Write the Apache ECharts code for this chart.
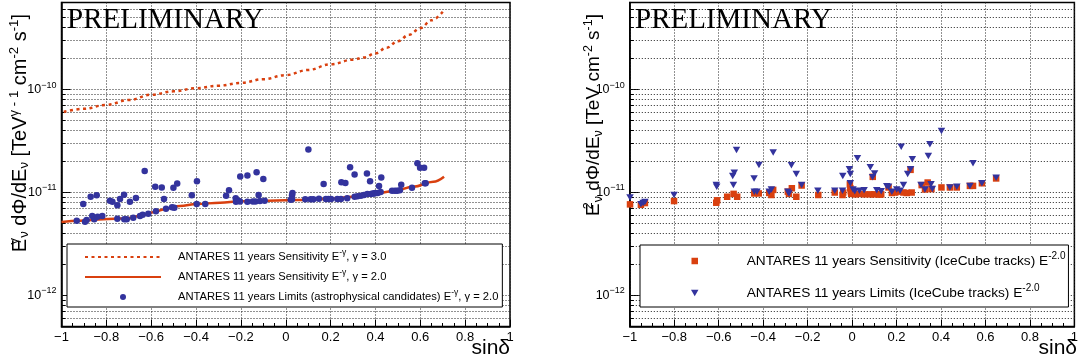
<!DOCTYPE html>
<html><head><meta charset="utf-8">
<script src="https://cdn.jsdelivr.net/npm/echarts@6/dist/echarts.min.js"></script>
<style>html,body{margin:0;padding:0;background:#fff}#c{width:1081px;height:363px}</style>
</head><body><div id="c"></div>
<script>
// ---------------- data ----------------
const xTickValues = [-1, -0.8, -0.6, -0.4, -0.2, 0, 0.2, 0.4, 0.6, 0.8, 1];
const yMajorValues = [1e-12, 1e-11, 1e-10];
const yGridValues = [6e-13, 7e-13, 8e-13, 9e-13, 1e-12, 2e-12, 3e-12, 4e-12, 5e-12, 6e-12, 7e-12, 8e-12, 9e-12,
  1e-11, 2e-11, 3e-11, 4e-11, 5e-11, 6e-11, 7e-11, 8e-11, 9e-11, 1e-10, 2e-10, 3e-10, 4e-10, 5e-10, 6e-10];

// Left panel: sensitivity gamma = 3.0 (dotted)
const sens3Sin  = [-0.99, -0.9, -0.8, -0.7, -0.6, -0.5, -0.4, -0.3, -0.2, -0.1, 0.0, 0.1, 0.2, 0.3, 0.35, 0.4, 0.45, 0.5, 0.55, 0.6, 0.65, 0.7];
const sens3Flux = [6.05e-11, 6.5e-11, 7.1e-11, 7.9e-11, 8.9e-11, 9.6e-11, 1.03e-10, 1.09e-10, 1.16e-10, 1.26e-10, 1.38e-10, 1.55e-10, 1.76e-10, 1.95e-10, 2.05e-10, 2.25e-10, 2.55e-10, 2.95e-10, 3.4e-10, 3.95e-10, 4.7e-10, 5.7e-10];
// Left panel: sensitivity gamma = 2.0 (solid)
const sens2Sin  = [-1.0, -0.918, -0.814, -0.709, -0.65, -0.591, -0.531, -0.472, -0.397, -0.293, -0.204, -0.115, 0.034, 0.183, 0.301, 0.39, 0.48, 0.569, 0.658, 0.706];
const sens2Flux = [5.18e-12, 5.33e-12, 5.5e-12, 5.62e-12, 5.92e-12, 6.43e-12, 6.97e-12, 7.4e-12, 7.73e-12, 7.96e-12, 8.22e-12, 8.3e-12, 8.45e-12, 8.65e-12, 9.1e-12, 9.66e-12, 1.035e-11, 1.14e-11, 1.27e-11, 1.42e-11];
// Left panel: limits, astrophysical candidates
const limSin = [-0.932, -0.903, -0.895, -0.888, -0.870, -0.863, -0.854, -0.843, -0.839, -0.818, -0.784, -0.773, -0.751, -0.751, -0.739, -0.721, -0.720, -0.709, -0.695, -0.680,
  -0.668, -0.650, -0.638, -0.629, -0.613, -0.582, -0.579, -0.553, -0.543, -0.534, -0.507, -0.501, -0.497, -0.484, -0.419, -0.396, -0.397, -0.359, -0.266, -0.253,
  -0.223, -0.222, -0.212, -0.204, -0.203, -0.171, -0.171, -0.147, -0.135, -0.130, -0.121, -0.115, -0.100, -0.094, 0.022, 0.028, 0.028, 0.030, 0.087, 0.101,
  0.111, 0.123, 0.148, 0.169, 0.179, 0.190, 0.202, 0.230, 0.246, 0.248, 0.266, 0.274, 0.287, 0.307, 0.307, 0.320, 0.335, 0.349, 0.362, 0.364,
  0.376, 0.380, 0.388, 0.395, 0.399, 0.410, 0.416, 0.423, 0.426, 0.474, 0.487, 0.497, 0.509, 0.515, 0.563, 0.587, 0.599, 0.617, 0.620, 0.624];
const limFlux = [5.32e-12, 7.73e-12, 5.2e-12, 5.41e-12, 9.1e-12, 5.92e-12, 5.5e-12, 9.4e-12, 5.82e-12, 5.92e-12, 8.3e-12, 8.14e-12, 7.52e-12, 5.57e-12, 8.65e-12, 9.5e-12, 5.5e-12, 5.5e-12, 8.14e-12, 5.69e-12,
  8.85e-12, 5.92e-12, 6.08e-12, 1.62e-11, 6.22e-12, 1.14e-11, 6.56e-12, 1.12e-11, 8.65e-12, 6.97e-12, 7.18e-12, 1.11e-11, 7.13e-12, 1.22e-11, 9.4e-12, 1.29e-11, 7.73e-12, 7.73e-12, 9.3e-12, 1.05e-11,
  8.8e-12, 8.14e-12, 8.3e-12, 8.2e-12, 1.43e-11, 1.46e-11, 8.14e-12, 8.2e-12, 8.2e-12, 1.57e-11, 9.46e-12, 8.25e-12, 1.35e-11, 8.3e-12, 8.5e-12, 9.4e-12, 8.6e-12, 9.9e-12, 8.6e-12, 2.62e-11,
  8.6e-12, 8.6e-12, 8.7e-12, 1.21e-11, 8.65e-12, 8.65e-12, 8.65e-12, 8.65e-12, 8.65e-12, 1.26e-11, 1.24e-11, 8.8e-12, 1.76e-11, 1.5e-11, 9.1e-12, 9.2e-12, 9.3e-12, 9.46e-12, 1.53e-11, 9.7e-12,
  1.29e-11, 9.7e-12, 9.8e-12, 9.8e-12, 9.9e-12, 9.9e-12, 1.16e-11, 1.01e-11, 1.4e-11, 1.04e-11, 1.04e-11, 1.04e-11, 1.05e-11, 1.19e-11, 1.11e-11, 1.92e-11, 1.74e-11, 1.74e-11, 1.23e-11, 1.23e-11];

// Right panel: sensitivity for IceCube tracks (squares)
const icSensSin = [-0.999, -0.950, -0.932, -0.801, -0.611, -0.607, -0.562, -0.533, -0.517, -0.440, -0.420, -0.373, -0.363, -0.355, -0.289, -0.284, -0.271, -0.251, -0.227, -0.152,
  -0.078, -0.043, -0.040, -0.010, -0.008, -0.006, -0.004, 0.015, 0.033, 0.057, 0.082, 0.093, 0.100, 0.119, 0.125, 0.131, 0.164, 0.179, 0.194, 0.209,
  0.231, 0.246, 0.263, 0.268, 0.313, 0.328, 0.340, 0.357, 0.402, 0.440, 0.471, 0.530, 0.544, 0.584, 0.648];
const icSensFlux = [7.67e-12, 7.6e-12, 7.9e-12, 8.26e-12, 7.96e-12, 8.4e-12, 9.1e-12, 9.7e-12, 9.1e-12, 9.8e-12, 9.8e-12, 9.9e-12, 9.46e-12, 1.06e-11, 1.02e-11, 9.7e-12, 1.1e-11, 9.1e-12, 1.17e-11, 9.46e-12,
  1.0e-11, 9.46e-12, 1.0e-11, 1.2e-11, 1.1e-11, 1.03e-11, 9.7e-12, 9.6e-12, 9.7e-12, 9.6e-12, 9.6e-12, 1.42e-11, 9.6e-12, 9.6e-12, 9.6e-12, 9.6e-12, 1.12e-11, 9.9e-12, 1.0e-11, 1.02e-11,
  1.0e-11, 9.9e-12, 1.66e-11, 1.0e-11, 1.18e-11, 1.07e-11, 1.25e-11, 1.08e-11, 1.12e-11, 1.12e-11, 1.12e-11, 1.16e-11, 1.16e-11, 1.23e-11, 1.37e-11];
// Right panel: limits for IceCube tracks (triangles)
const icLimSin = [-0.999, -0.950, -0.940, -0.932, -0.801, -0.611, -0.609, -0.537, -0.534, -0.530, -0.520, -0.441, -0.440, -0.428, -0.419, -0.373, -0.363, -0.355, -0.289, -0.284,
  -0.273, -0.251, -0.227, -0.154, -0.078, -0.043, -0.042, -0.012, -0.008, -0.008, 0.004, 0.012, 0.024, 0.033, 0.054, 0.082, 0.092, 0.101, 0.111, 0.131,
  0.156, 0.164, 0.179, 0.201, 0.216, 0.221, 0.231, 0.250, 0.263, 0.271, 0.310, 0.328, 0.343, 0.350, 0.355, 0.361, 0.402, 0.440, 0.471, 0.530,
  0.544, 0.584, 0.648];
const icLimFlux = [8.97e-12, 7.7e-12, 7.9e-12, 8.1e-12, 9.46e-12, 1.18e-11, 1.14e-11, 1.45e-11, 1.18e-11, 1.56e-11, 2.59e-11, 1.37e-11, 1.02e-11, 1.02e-11, 1.85e-11, 1.02e-11, 1.07e-11, 2.45e-11, 1.02e-11, 9.8e-12,
  1.84e-11, 1.51e-11, 1.18e-11, 1.04e-11, 1.04e-11, 1.04e-11, 1.45e-11, 1.68e-11, 1.51e-11, 1.23e-11, 1.07e-11, 1.03e-11, 2.15e-11, 1.04e-11, 1.05e-11, 1.76e-11, 1.41e-11, 1.53e-11, 1.05e-11, 1.03e-11,
  1.15e-11, 1.14e-11, 1.02e-11, 1.07e-11, 1.04e-11, 2.79e-11, 1.18e-11, 1.51e-11, 1.68e-11, 2.1e-11, 1.18e-11, 1.07e-11, 2.26e-11, 2.94e-11, 1.2e-11, 1.08e-11, 3.95e-11, 1.12e-11, 1.14e-11, 1.16e-11,
  1.92e-11, 1.23e-11, 1.39e-11];

const NAMES = {
  s3: 'ANTARES 11 years Sensitivity E-γ, γ = 3.0',
  s2: 'ANTARES 11 years Sensitivity E-γ, γ = 2.0',
  lim: 'ANTARES 11 years Limits (astrophysical candidates) E-γ, γ = 2.0',
  icS: 'ANTARES 11 years Sensitivity (IceCube tracks) E-2.0',
  icL: 'ANTARES 11 years Limits (IceCube tracks) E-2.0'
};
const LEGEND_RICH = {};
LEGEND_RICH[NAMES.s3] = '{g|}ANTARES 11 years Sensitivity E{s|-γ}, γ = 3.0';
LEGEND_RICH[NAMES.s2] = '{g|}ANTARES 11 years Sensitivity E{s|-γ}, γ = 2.0';
LEGEND_RICH[NAMES.lim] = '{g|}ANTARES 11 years Limits (astrophysical candidates) E{s|-γ}, γ = 2.0';
LEGEND_RICH[NAMES.icS] = '{g|}ANTARES 11 years Sensitivity (IceCube tracks) E{s|-2.0}';
LEGEND_RICH[NAMES.icL] = '{g|}ANTARES 11 years Limits (IceCube tracks) E{s|-2.0}';

// ---------------- style ----------------
const RED = '#d9400f';
const BLUE = '#33339d';
const FONT = 'Liberation Sans';
const SQUARE = 'path://M0,0L10,0L10,10L0,10Z';
const TRIANGLE_DOWN = 'path://M0,0L10,0L5,8.7Z';
const zip = (a, b) => a.map((v, i) => [v, b[i]]);

function xFmt(v) {
  const r = parseFloat(Math.abs(v).toFixed(2));
  if (r === 0) return '0';
  return (v < 0 ? '\u2212' : '') + String(r);
}
function yFmt(v) {
  const e = Math.log10(v);
  const r = Math.round(e);
  if (Math.abs(e - r) > 1e-6) return '';
  return '{b|10}{s|\u2212' + Math.abs(r) + '}';
}

// horizontal dotted grid at every decade sub-division, drawn through the axes' scales
function yGridSeries(gi) {
  return {
    type: 'lines', coordinateSystem: 'cartesian2d', xAxisIndex: gi, yAxisIndex: gi, z: 1, silent: true, polyline: false,
    lineStyle: { color: '#222', width: 1, type: [1, 2], opacity: 1, curveness: 0 },
    data: yGridValues.map(v => ({ coords: [[xTickValues[0], v], [xTickValues[xTickValues.length - 1], v]] }))
  };
}
// short minor ticks on the left frame
function yMinorTickSeries(gi) {
  const len = 0.018;
  return {
    type: 'lines', coordinateSystem: 'cartesian2d', xAxisIndex: gi, yAxisIndex: gi, z: 2, silent: true, polyline: false,
    lineStyle: { color: '#000', width: 1, type: 'solid', opacity: 1, curveness: 0 },
    data: yGridValues.filter(v => yMajorValues.indexOf(v) < 0).map(v => ({ coords: [[xTickValues[0], v], [xTickValues[0] + len, v]] }))
  };
}

function xAxis(gi) {
  return {
    type: 'value', gridIndex: gi, min: -1, max: 1, interval: 0.2,
    axisLine: { onZero: false, lineStyle: { color: '#000', width: 1.5 } },
    axisTick: { inside: true, length: 7, lineStyle: { color: '#000', width: 1 } },
    minorTick: { show: true, splitNumber: 4, length: 3.5, lineStyle: { color: '#000', width: 1 } },
    splitLine: { show: true, lineStyle: { color: '#222', type: [1, 2], width: 1 } },
    axisLabel: { formatter: xFmt, margin: 4, fontSize: 13, color: '#000', fontFamily: FONT, showMinLabel: true, showMaxLabel: true }
  };
}
function yAxis(gi) {
  return {
    type: 'log', logBase: 10, gridIndex: gi, min: 5e-13, max: 7e-10,
    axisLine: { show: true, onZero: false, lineStyle: { color: '#000', width: 1.5 } },
    axisTick: { show: true, inside: true, length: 9, lineStyle: { color: '#000', width: 1 } },
    splitLine: { show: false },
    axisLabel: { formatter: yFmt, margin: 5, color: '#000', fontFamily: FONT, showMinLabel: false, showMaxLabel: false,
      rich: { b: { fontSize: 12.5, lineHeight: 16, fontFamily: FONT, color: '#000' },
              s: { fontSize: 9, lineHeight: 9, padding: [0, 0, 9, 0], fontFamily: FONT, color: '#000' } } }
  };
}

function titleRich(n, s) {
  return {
    n: { fontSize: n, lineHeight: 22, fontFamily: FONT, color: '#000' },
    sup: { fontSize: s, lineHeight: 11, padding: [0, 0, 11, 0], fontFamily: FONT, color: '#000' },
    supz: { fontSize: s, lineHeight: 11, width: 1, padding: [0, 0, 11, 0], fontFamily: FONT, color: '#000' },
    sub: { fontSize: s, lineHeight: 11, padding: [9, 0, 0, 0], fontFamily: FONT, color: '#000' }
  };
}
const noSymbol = { color: 'rgba(0,0,0,0)', borderWidth: 0, opacity: 0 };

const option = {
  animation: false,
  backgroundColor: '#fff',
  textStyle: { fontFamily: FONT },
  grid: [
    { left: 61.5, right: 571, top: 2.5, bottom: 36.5, show: true, borderColor: '#000', borderWidth: 1.5, backgroundColor: 'transparent' },
    { left: 629.8, right: 4, top: 2.5, bottom: 36.5, show: true, borderColor: '#000', borderWidth: 1.5, backgroundColor: 'transparent' }
  ],
  xAxis: [xAxis(0), xAxis(1)],
  yAxis: [yAxis(0), yAxis(1)],
  legend: [
    {
      data: [{ name: NAMES.s3, itemStyle: noSymbol }, { name: NAMES.s2, itemStyle: noSymbol }, NAMES.lim],
      orient: 'vertical', left: 67, top: 244,
      itemWidth: 76, itemHeight: 6, itemGap: 0, padding: [3, 4, 0, 17], selectedMode: false,
      backgroundColor: '#fff', borderColor: '#000', borderWidth: 1, borderRadius: 0,
      formatter: n => LEGEND_RICH[n],
      textStyle: { fontSize: 11.2, lineHeight: 20, color: '#000', fontFamily: FONT,
        rich: { g: { width: 12 }, s: { fontSize: 8.5, lineHeight: 10, padding: [0, 0, 8, 0], fontFamily: FONT, color: '#000' } } }
    },
    {
      data: [{ name: NAMES.icS, icon: SQUARE }, { name: NAMES.icL, icon: TRIANGLE_DOWN }], orient: 'vertical', left: 640, top: 245,
      itemWidth: 60, itemHeight: 6.5, itemGap: 12, padding: [6, 3, 4, 51], selectedMode: false,
      backgroundColor: '#fff', borderColor: '#000', borderWidth: 1, borderRadius: 0,
      formatter: n => LEGEND_RICH[n],
      textStyle: { fontSize: 13.7, lineHeight: 20, color: '#000', fontFamily: FONT,
        rich: { g: { width: 17 }, s: { fontSize: 10, lineHeight: 10, padding: [0, 0, 9, 0], fontFamily: FONT, color: '#000' } } }
    }
  ],
  graphic: [
    { type: 'text', x: 67, y: 20.5, z: 10, style: { text: 'PRELIMINARY', font: '29px "Liberation Serif"', fill: '#000', textVerticalAlign: 'middle' } },
    { type: 'text', x: 635, y: 20.5, z: 10, style: { text: 'PRELIMINARY', font: '29px "Liberation Serif"', fill: '#000', textVerticalAlign: 'middle' } },
    { type: 'text', x: 510, y: 348, z: 10, style: { text: 'sin\u03b4', font: '21px "Liberation Sans"', fill: '#000', textAlign: 'right', textVerticalAlign: 'middle' } },
    { type: 'text', x: 1077, y: 348, z: 10, style: { text: 'sin\u03b4', font: '21px "Liberation Sans"', fill: '#000', textAlign: 'right', textVerticalAlign: 'middle' } },
    { type: 'text', x: 20, y: 14, rotation: Math.PI / 2, z: 10,
      style: { text: '{n|E}{supz|γ}{sub|ν}{n| dΦ/dE}{sub|ν}{n| [TeV}{sup|γ - 1}{n| cm}{sup|-2}{n| s}{sup|-1}{n|]}',
               rich: titleRich(20, 13.2), textAlign: 'right', textVerticalAlign: 'middle', fill: '#000' } },
    { type: 'text', x: 594, y: 14, rotation: Math.PI / 2, z: 10,
      style: { text: '{n|E}{supz|2}{sub|ν}{n| dΦ/dE}{sub|ν}{n| [TeV cm}{sup|-2}{n| s}{sup|-1}{n|]}',
               rich: titleRich(19, 12.5), textAlign: 'right', textVerticalAlign: 'middle', fill: '#000' } }
  ],
  series: [
    yGridSeries(0),
    yMinorTickSeries(0),
    { name: NAMES.s3, type: 'line', xAxisIndex: 0, yAxisIndex: 0, data: zip(sens3Sin, sens3Flux), symbol: 'none', smooth: 0.4, smoothMonotone: 'x',
      lineStyle: { color: RED, width: 2.5, type: [3, 3.5] }, itemStyle: { color: RED }, z: 3 },
    { name: NAMES.s2, type: 'line', xAxisIndex: 0, yAxisIndex: 0, data: zip(sens2Sin, sens2Flux), symbol: 'none', smooth: 0.4, smoothMonotone: 'x',
      lineStyle: { color: RED, width: 2.5 }, itemStyle: { color: RED }, z: 3 },
    { name: NAMES.lim, type: 'scatter', xAxisIndex: 0, yAxisIndex: 0, data: zip(limSin, limFlux), symbol: 'circle', symbolSize: 6.5,
      itemStyle: { color: BLUE, opacity: 1 }, z: 4 },
    yGridSeries(1),
    yMinorTickSeries(1),
    { name: NAMES.icS, type: 'scatter', xAxisIndex: 1, yAxisIndex: 1, data: zip(icSensSin, icSensFlux), symbol: SQUARE, symbolSize: 6.5,
      itemStyle: { color: RED, opacity: 1 }, z: 3 },
    { name: NAMES.icL, type: 'scatter', xAxisIndex: 1, yAxisIndex: 1, data: zip(icLimSin, icLimFlux), symbol: TRIANGLE_DOWN, symbolSize: [7.5, 6.5],
      itemStyle: { color: BLUE, opacity: 1 }, z: 4 }
  ]
};
const chart = echarts.init(document.getElementById('c'), null, { renderer: 'canvas' });
chart.setOption(option);
</script>
</body></html>
